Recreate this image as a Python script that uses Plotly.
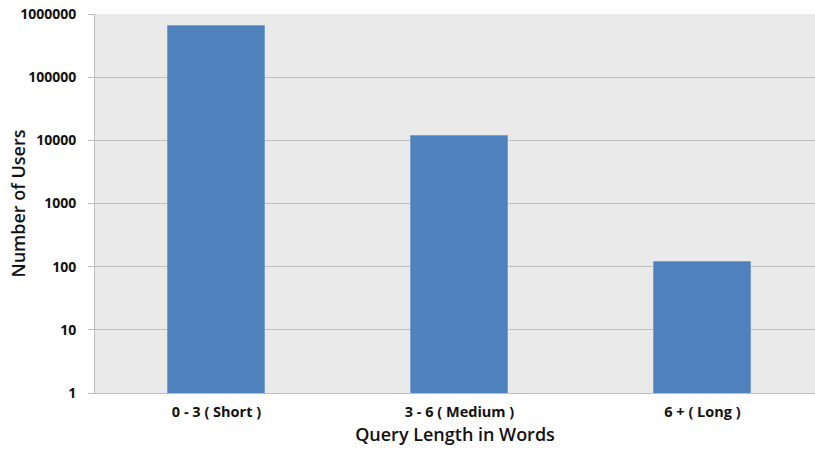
import plotly.graph_objects as go

# Users grouped by query length (log scale)
categories = ["0 - 3 ( Short )", "3 - 6 ( Medium )", "6 + ( Long )"]
users = [653000, 11600, 118]
y_ticks = [1, 10, 100, 1000, 10000, 100000, 1000000]

fig = go.Figure(
    go.Bar(
        x=list(range(len(categories))),
        y=users,
        width=0.403,
        marker=dict(color="#4f81bd", line=dict(color="#7a9fd0", width=1)),
    )
)

font_family = "Open Sans, Liberation Sans, sans-serif"
title_font = dict(family=font_family, size=18, color="#111111", weight=600)

fig.update_layout(
    width=815,
    height=453,
    margin=dict(l=95, r=0, t=14, b=60),
    paper_bgcolor="white",
    plot_bgcolor="#eaeaea",
    showlegend=False,
    bargap=0,
)

fig.update_xaxes(
    range=[-0.5, 2.463],
    tickmode="array",
    tickvals=list(range(len(categories))),
    ticktext=categories,
    tickfont=dict(family=font_family, size=14.5, color="#111111", weight="bold"),
    ticklabelstandoff=6,
    showgrid=False,
    zeroline=False,
    showline=True,
    linecolor="#bfbfbf",
    linewidth=1,
    ticks="",
    title=dict(text="Query Length in Words", font=title_font, standoff=7),
)

fig.update_yaxes(
    type="log",
    range=[0, 6],
    tickmode="array",
    tickvals=y_ticks,
    ticktext=[str(v) for v in y_ticks],
    tickfont=dict(family=font_family, size=14, color="#111111", weight="bold"),
    ticklabelstandoff=9,
    showgrid=True,
    gridcolor="#bfbfbf",
    gridwidth=1,
    zeroline=False,
    showline=True,
    linecolor="#bfbfbf",
    linewidth=1,
    ticks="outside",
    ticklen=6,
    tickcolor="#bfbfbf",
)

# Y-axis title placed alongside the tick labels
fig.add_annotation(
    text="Number of Users",
    xref="paper",
    yref="paper",
    x=-0.107,
    y=0.5,
    xanchor="center",
    yanchor="middle",
    textangle=-90,
    showarrow=False,
    font=title_font,
)

fig.write_html("out.html")
